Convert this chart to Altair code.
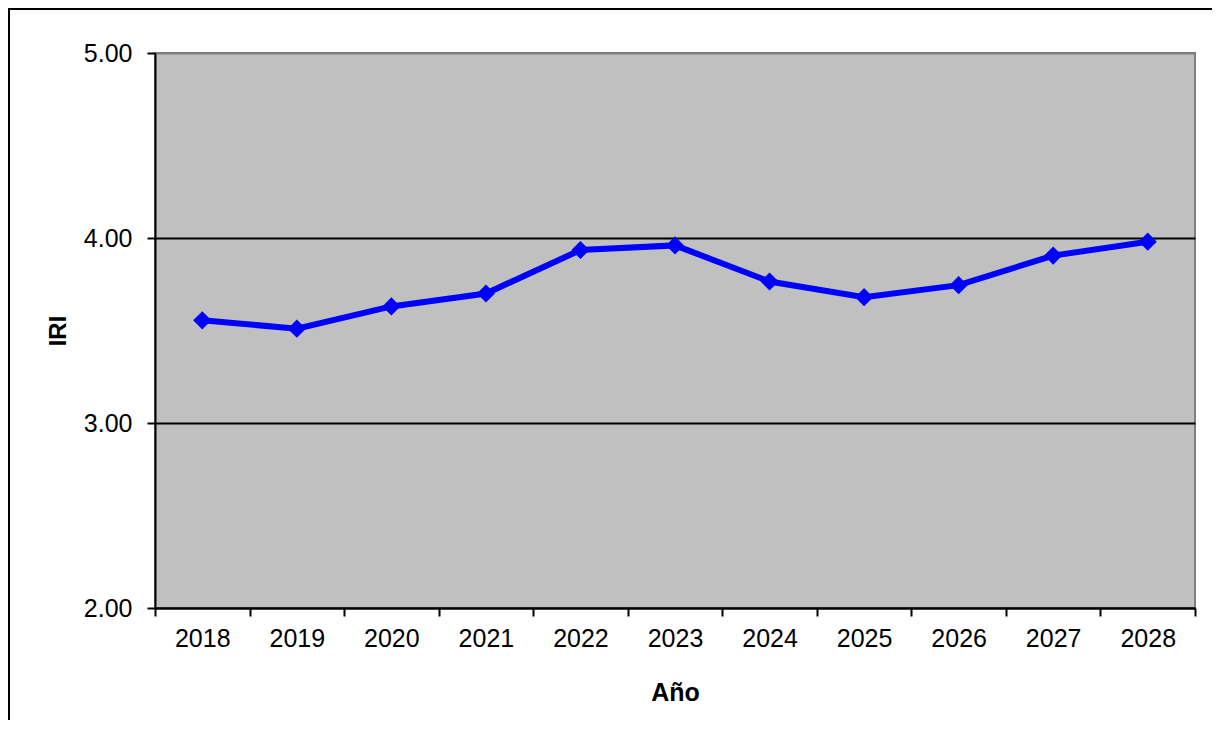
import altair as alt
import pandas as pd

years = ["2018", "2019", "2020", "2021", "2022", "2023", "2024", "2025", "2026", "2027", "2028"]
iri = [3.555, 3.51, 3.63, 3.70, 3.935, 3.96, 3.765, 3.68, 3.745, 3.905, 3.98]
y_ticks = [2, 3, 4, 5]

df = pd.DataFrame({"Año": years, "IRI": iri})

W, H = 1040, 555
FONT = "Liberation Sans"
FS = 25

x_enc = alt.X(
    "Año:O",
    sort=years,
    scale=alt.Scale(paddingInner=0, paddingOuter=0),
    axis=alt.Axis(
        title="Año", tickBand="extent", labelAngle=0, labelFontSize=FS,
        labelFont=FONT, labelColor="black", labelPadding=10,
        titleFontSize=FS, titleFont=FONT, titleFontWeight="bold", titleColor="black",
        titleX=W / 2, titleY=84, titleBaseline="middle",
        domainColor="black", domainWidth=2, tickColor="black", tickWidth=2, tickSize=8,
    ),
)
y_enc = alt.Y(
    "IRI:Q",
    scale=alt.Scale(domain=[2, 5], nice=False, zero=False),
    axis=alt.Axis(
        title="IRI", values=y_ticks, format=".2f", labelFontSize=FS, labelFont=FONT,
        labelColor="black", labelPadding=15,
        titleFontSize=24, titleFont=FONT, titleFontWeight="bold", titleColor="black",
        titleX=-97, titleY=H / 2, titleBaseline="middle", titleAngle=-90,
        grid=True,
        gridColor=alt.condition("datum.value == 5", alt.value("#808080"), alt.value("black")),
        gridWidth=2,
        domainColor="black", domainWidth=2, tickColor="black", tickWidth=2, tickSize=8,
    ),
)

base = alt.Chart(df)
line = base.mark_line(color="#0000FF", strokeWidth=6).encode(x=x_enc, y=y_enc)
pts = base.mark_point(shape="diamond", filled=True, color="#0000FF", size=330, opacity=1).encode(x=x_enc, y=y_enc)

frame_left = base.mark_rule(color="black", strokeWidth=2).encode(
    x=alt.value(-146), y=alt.value(-45), y2=alt.value(H + 130)
)
frame_top = base.mark_rule(color="black", strokeWidth=2).encode(
    x=alt.value(-147), x2=alt.value(W + 20), y=alt.value(-44)
)

chart = (
    alt.layer(line, pts, frame_left, frame_top)
    .properties(
        width=W, height=H,
        background="white",
        autosize=alt.AutoSizeParams(type="none"),
        padding={"left": 147, "top": 45, "right": 17, "bottom": 112},
    )
    .configure_view(fill="#C0C0C0", stroke="#808080", strokeWidth=2)
)

chart.save("out.html", embed_options={"renderer": "svg", "actions": False})
